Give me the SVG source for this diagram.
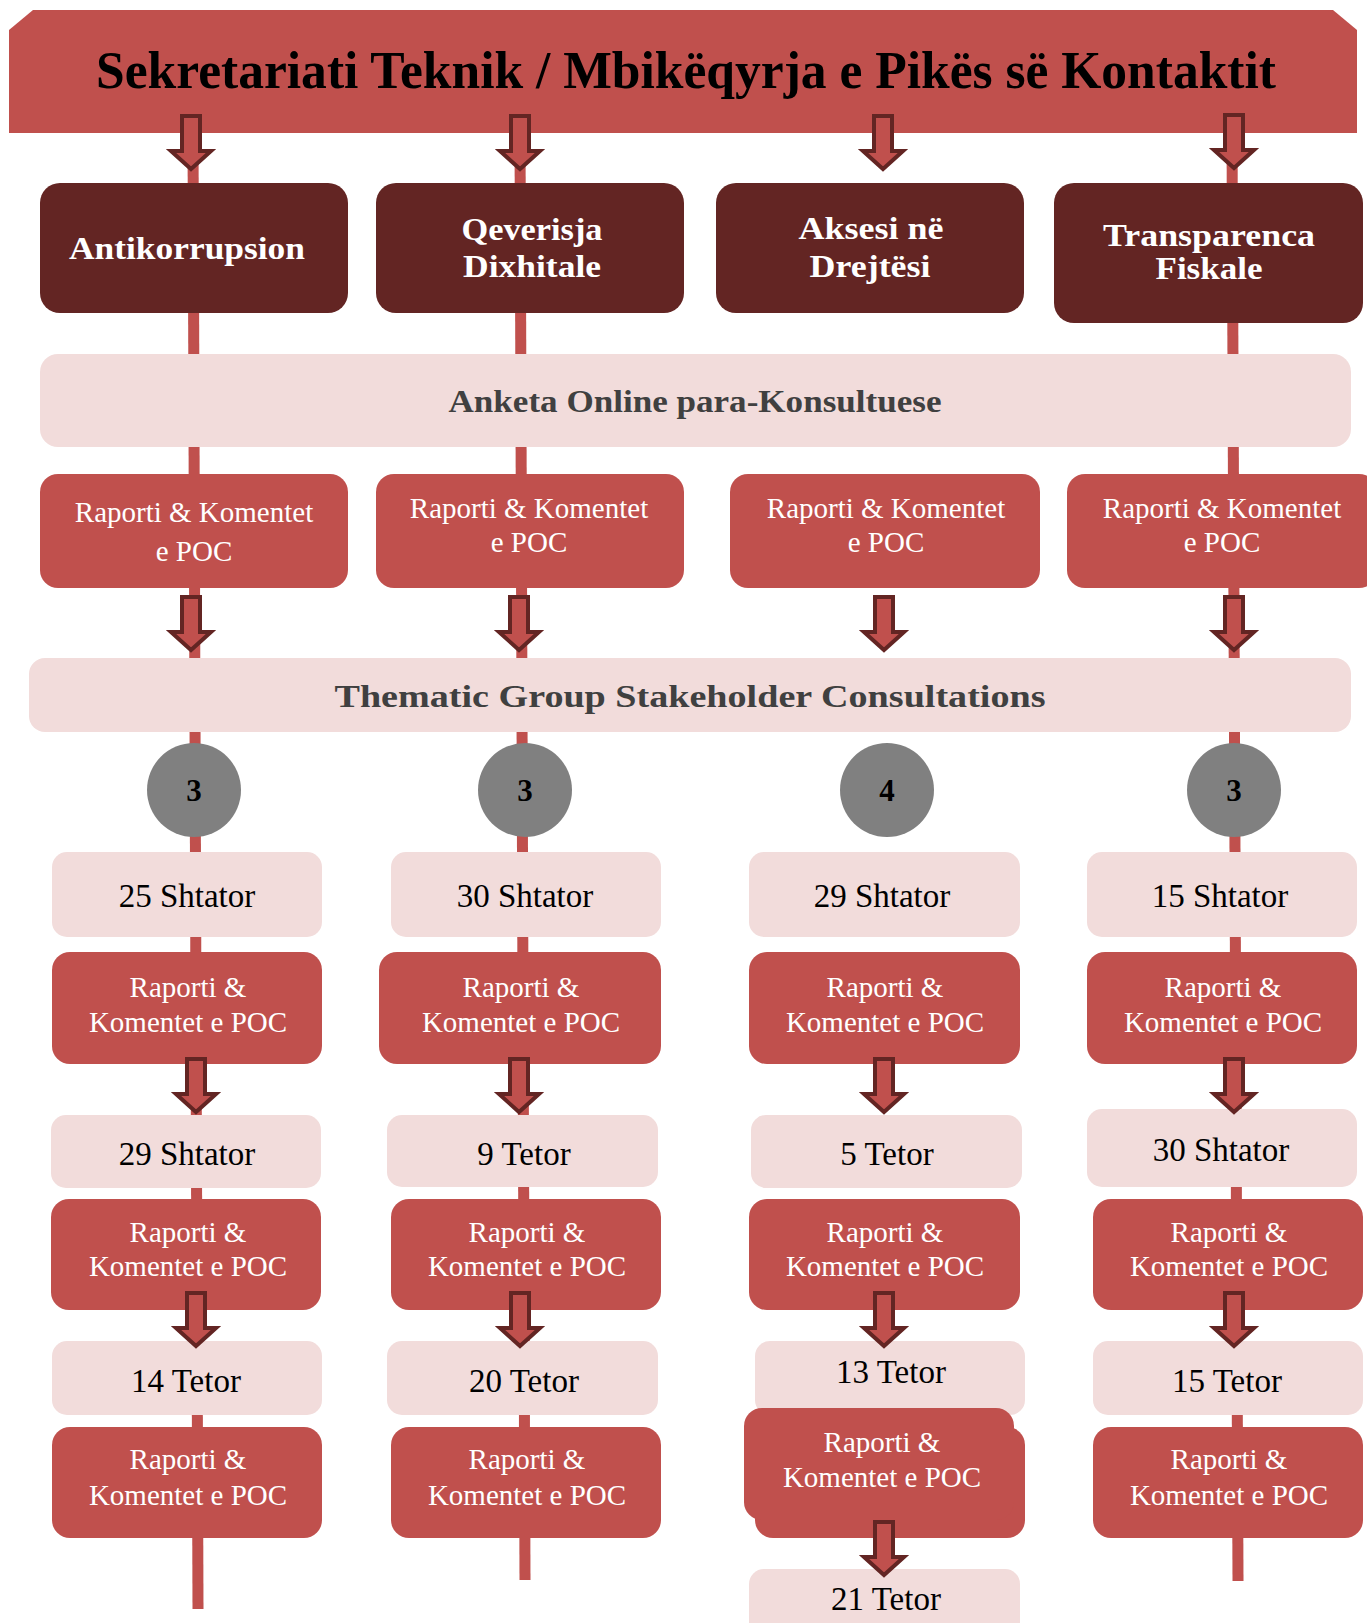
<svg xmlns="http://www.w3.org/2000/svg" width="1367" height="1623" viewBox="0 0 1367 1623">
<defs>
<style>
.bn{fill:#C0504D}
.hd{fill:#632523}
.pl{fill:#F2DCDB}
.rp{fill:#C0504D}
.ci{fill:#808080}
.ln{stroke:#C0504D;stroke-width:11;fill:none}
.ar{fill:#C0504D;stroke:#632523;stroke-width:4;stroke-linejoin:miter}
.t{font-family:"Liberation Serif","Times New Roman",serif;text-anchor:middle}
.title{font-size:53px;font-weight:bold;fill:#000}
.ht{font-size:31px;font-weight:bold;fill:#fff}
.bt{font-size:32px;font-weight:bold;fill:#404040}
.rt{font-size:29px;fill:#fff}
.dt{font-size:33px;fill:#000}
.nt{font-size:31px;font-weight:bold;fill:#000}
</style>
</defs>
<rect width="1367" height="1623" fill="#fff"/>
<g id="connectors">
<line class="ln" x1="193" y1="130" x2="198" y2="1609"/>
<line class="ln" x1="520" y1="130" x2="525" y2="1580"/>
<line class="ln" x1="1232" y1="130" x2="1238" y2="1581"/>
</g>
<g id="banner">
<path class="bn" d="M9,30 L33,10 L1333,10 L1357,30 L1357,133 L9,133 Z"/>
<text class="t title" x="686" y="88" textLength="1180" lengthAdjust="spacingAndGlyphs">Sekretariati Teknik / Mbikëqyrja e Pikës së Kontaktit</text>
</g>
<g id="arrows">
<path class="ar" d="M182,116 h18 v35 h11 l-20,18 l-20,-18 h11 z"/>
<path class="ar" d="M511,116 h18 v35 h11 l-20,18 l-20,-18 h11 z"/>
<path class="ar" d="M874,116 h18 v35 h11 l-20,18 l-20,-18 h11 z"/>
<path class="ar" d="M1225,115 h18 v35 h11 l-20,18 l-20,-18 h11 z"/>
<path class="ar" d="M182,597 h18 v35 h11 l-20,18 l-20,-18 h11 z"/>
<path class="ar" d="M510,597 h18 v35 h11 l-20,18 l-20,-18 h11 z"/>
<path class="ar" d="M875,597 h18 v35 h11 l-20,18 l-20,-18 h11 z"/>
<path class="ar" d="M1225,597 h18 v35 h11 l-20,18 l-20,-18 h11 z"/>
</g>
<g id="h1"><rect class="hd" x="40" y="183" width="308" height="130" rx="20"/><text class="t ht" x="187" y="259" textLength="236" lengthAdjust="spacingAndGlyphs">Antikorrupsion</text></g>
<g id="h2"><rect class="hd" x="376" y="183" width="308" height="130" rx="20"/><text class="t ht" x="532" y="240" textLength="141" lengthAdjust="spacingAndGlyphs">Qeverisja</text><text class="t ht" x="532" y="277" textLength="138" lengthAdjust="spacingAndGlyphs">Dixhitale</text></g>
<g id="h3"><rect class="hd" x="716" y="183" width="308" height="130" rx="20"/><text class="t ht" x="871" y="239" textLength="145" lengthAdjust="spacingAndGlyphs">Aksesi në</text><text class="t ht" x="870" y="277" textLength="121" lengthAdjust="spacingAndGlyphs">Drejtësi</text></g>
<g id="h4"><rect class="hd" x="1054" y="183" width="309" height="140" rx="20"/><text class="t ht" x="1209" y="246" textLength="212" lengthAdjust="spacingAndGlyphs">Transparenca</text><text class="t ht" x="1209" y="279" textLength="107" lengthAdjust="spacingAndGlyphs">Fiskale</text></g>
<g id="anketa"><rect class="pl" x="40" y="354" width="1311" height="93" rx="18"/><text class="t bt" x="695" y="412" textLength="493" lengthAdjust="spacingAndGlyphs">Anketa Online para-Konsultuese</text></g>
<g id="r1a"><rect class="rp" x="40" y="474" width="308" height="114" rx="18"/><text class="t rt" x="194" y="522">Raporti &amp; Komentet</text><text class="t rt" x="194" y="561">e POC</text></g>
<g id="r1b"><rect class="rp" x="376" y="474" width="308" height="114" rx="18"/><text class="t rt" x="529" y="518">Raporti &amp; Komentet</text><text class="t rt" x="529" y="552">e POC</text></g>
<g id="r1c"><rect class="rp" x="730" y="474" width="310" height="114" rx="18"/><text class="t rt" x="886" y="518">Raporti &amp; Komentet</text><text class="t rt" x="886" y="552">e POC</text></g>
<g id="r1d"><rect class="rp" x="1067" y="474" width="310" height="114" rx="18"/><text class="t rt" x="1222" y="518">Raporti &amp; Komentet</text><text class="t rt" x="1222" y="552">e POC</text></g>
<g id="thematic"><rect class="pl" x="29" y="658" width="1322" height="74" rx="16"/><text class="t bt" x="690" y="707" textLength="711" lengthAdjust="spacingAndGlyphs">Thematic Group Stakeholder Consultations</text></g>
<g id="c1"><circle class="ci" cx="194" cy="790" r="47"/><text class="t nt" x="194" y="801">3</text></g>
<g id="c2"><circle class="ci" cx="525" cy="790" r="47"/><text class="t nt" x="525" y="801">3</text></g>
<g id="c3"><circle class="ci" cx="887" cy="790" r="47"/><text class="t nt" x="887" y="801">4</text></g>
<g id="c4"><circle class="ci" cx="1234" cy="790" r="47"/><text class="t nt" x="1234" y="801">3</text></g>
<g id="d1a"><rect class="pl" x="52" y="852" width="270" height="85" rx="15"/><text class="t dt" x="187" y="907">25 Shtator</text></g>
<g id="d2a"><rect class="pl" x="391" y="852" width="270" height="85" rx="15"/><text class="t dt" x="525" y="907">30 Shtator</text></g>
<g id="d3a"><rect class="pl" x="749" y="852" width="271" height="85" rx="15"/><text class="t dt" x="882" y="907">29 Shtator</text></g>
<g id="d4a"><rect class="pl" x="1087" y="852" width="270" height="85" rx="15"/><text class="t dt" x="1220" y="907">15 Shtator</text></g>
<g id="r2a"><rect class="rp" x="52" y="952" width="270" height="112" rx="18"/><text class="t rt" x="188" y="997">Raporti &amp;</text><text class="t rt" x="188" y="1032">Komentet e POC</text></g>
<g id="r2b"><rect class="rp" x="379" y="952" width="282" height="112" rx="18"/><text class="t rt" x="521" y="997">Raporti &amp;</text><text class="t rt" x="521" y="1032">Komentet e POC</text></g>
<g id="r2c"><rect class="rp" x="749" y="952" width="271" height="112" rx="18"/><text class="t rt" x="885" y="997">Raporti &amp;</text><text class="t rt" x="885" y="1032">Komentet e POC</text></g>
<g id="r2d"><rect class="rp" x="1087" y="952" width="270" height="112" rx="18"/><text class="t rt" x="1223" y="997">Raporti &amp;</text><text class="t rt" x="1223" y="1032">Komentet e POC</text></g>
<g id="d1b"><rect class="pl" x="51" y="1115" width="270" height="73" rx="15"/><text class="t dt" x="187" y="1165">29 Shtator</text></g>
<g id="d2b"><rect class="pl" x="387" y="1115" width="271" height="72" rx="15"/><text class="t dt" x="524" y="1165">9 Tetor</text></g>
<g id="d3b"><rect class="pl" x="751" y="1115" width="271" height="73" rx="15"/><text class="t dt" x="887" y="1165">5 Tetor</text></g>
<g id="d4b"><rect class="pl" x="1087" y="1109" width="270" height="78" rx="15"/><text class="t dt" x="1221" y="1161">30 Shtator</text></g>
<g id="r3a"><rect class="rp" x="51" y="1199" width="270" height="111" rx="18"/><text class="t rt" x="188" y="1242">Raporti &amp;</text><text class="t rt" x="188" y="1276">Komentet e POC</text></g>
<g id="r3b"><rect class="rp" x="391" y="1199" width="270" height="111" rx="18"/><text class="t rt" x="527" y="1242">Raporti &amp;</text><text class="t rt" x="527" y="1276">Komentet e POC</text></g>
<g id="r3c"><rect class="rp" x="749" y="1199" width="271" height="111" rx="18"/><text class="t rt" x="885" y="1242">Raporti &amp;</text><text class="t rt" x="885" y="1276">Komentet e POC</text></g>
<g id="r3d"><rect class="rp" x="1093" y="1199" width="270" height="111" rx="18"/><text class="t rt" x="1229" y="1242">Raporti &amp;</text><text class="t rt" x="1229" y="1276">Komentet e POC</text></g>
<g id="d1c"><rect class="pl" x="52" y="1341" width="270" height="74" rx="15"/><text class="t dt" x="186" y="1392">14 Tetor</text></g>
<g id="d2c"><rect class="pl" x="387" y="1341" width="271" height="74" rx="15"/><text class="t dt" x="524" y="1392">20 Tetor</text></g>
<g id="d3c"><rect class="pl" x="755" y="1341" width="270" height="74" rx="15"/><text class="t dt" x="891" y="1383">13 Tetor</text></g>
<g id="d4c"><rect class="pl" x="1093" y="1341" width="270" height="74" rx="15"/><text class="t dt" x="1227" y="1392">15 Tetor</text></g>
<g id="r4a"><rect class="rp" x="52" y="1427" width="270" height="111" rx="18"/><text class="t rt" x="188" y="1469">Raporti &amp;</text><text class="t rt" x="188" y="1505">Komentet e POC</text></g>
<g id="r4b"><rect class="rp" x="391" y="1427" width="270" height="111" rx="18"/><text class="t rt" x="527" y="1469">Raporti &amp;</text><text class="t rt" x="527" y="1505">Komentet e POC</text></g>
<g id="r4c"><rect class="rp" x="755" y="1427" width="270" height="111" rx="18"/><rect class="rp" x="744" y="1408" width="270" height="112" rx="18"/><text class="t rt" x="882" y="1452">Raporti &amp;</text><text class="t rt" x="882" y="1487">Komentet e POC</text></g>
<g id="r4d"><rect class="rp" x="1093" y="1427" width="270" height="111" rx="18"/><text class="t rt" x="1229" y="1469">Raporti &amp;</text><text class="t rt" x="1229" y="1505">Komentet e POC</text></g>
<g id="d3d"><rect class="pl" x="749" y="1569" width="271" height="80" rx="15"/><text class="t dt" x="886" y="1610">21 Tetor</text></g>
<g id="arrows2">
<path class="ar" d="M187,1059 h18 v35 h11 l-20,18 l-20,-18 h11 z"/>
<path class="ar" d="M510,1059 h18 v35 h11 l-20,18 l-20,-18 h11 z"/>
<path class="ar" d="M875,1059 h18 v35 h11 l-20,18 l-20,-18 h11 z"/>
<path class="ar" d="M1225,1059 h18 v35 h11 l-20,18 l-20,-18 h11 z"/>
<path class="ar" d="M187,1293 h18 v35 h11 l-20,18 l-20,-18 h11 z"/>
<path class="ar" d="M511,1293 h18 v35 h11 l-20,18 l-20,-18 h11 z"/>
<path class="ar" d="M875,1293 h18 v35 h11 l-20,18 l-20,-18 h11 z"/>
<path class="ar" d="M1225,1293 h18 v35 h11 l-20,18 l-20,-18 h11 z"/>
<path class="ar" d="M875,1522 h18 v35 h11 l-20,18 l-20,-18 h11 z"/>
</g>
</svg>
